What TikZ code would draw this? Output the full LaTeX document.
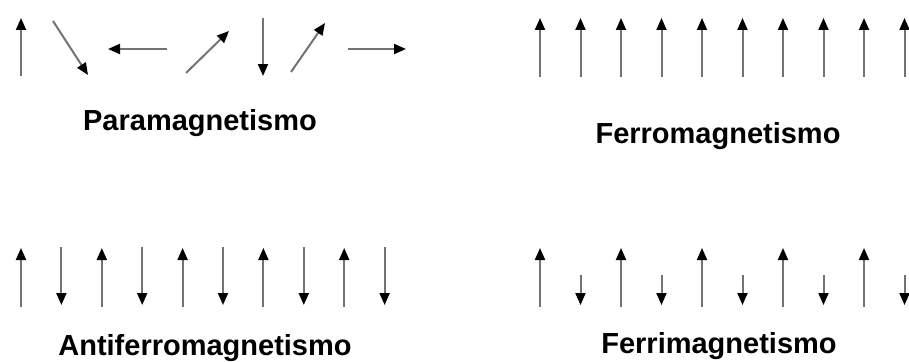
\documentclass[tikz,border=0pt]{standalone}
\usepackage{fontspec}
\setmainfont{Liberation Sans}
\usetikzlibrary{arrows.meta}
\begin{document}
\begin{tikzpicture}[x=1pt,y=-1pt,
  spin/.style={draw=black!55,line width=2pt,-{Triangle[color=black,length=12pt,width=10pt]}},
  lbl/.style={anchor=base,font=\bfseries\fontsize{29}{30}\selectfont,inner sep=0pt}]
\useasboundingbox (0,0) rectangle (909,361);
% Paramagnetismo
\draw[spin] (21,76) -- (21,18);
\draw[spin] (53,21) -- (88,75);
\draw[spin] (167,49) -- (108,49);
\draw[spin] (186,73) -- (229,31);
\draw[spin] (263,18) -- (263,76);
\draw[spin] (291,72) -- (325,23);
\draw[spin] (348,49) -- (406,49);
\node[lbl] (para) at (200,130) {Paramagnetismo};
% Ferromagnetismo
\foreach \i in {0,...,9}{
  \draw[spin] ({540+40.5*\i},77) -- ({540+40.5*\i},18);
}
\node[lbl] (ferro) at (718,143) {Ferromagnetismo};
% Antiferromagnetismo
\foreach \i in {0,2,...,8}{
  \draw[spin] ({21+40.4*\i},307) -- ({21+40.4*\i},248);
}
\foreach \i in {1,3,...,9}{
  \draw[spin] ({21+40.4*\i},247) -- ({21+40.4*\i},305);
}
\node[lbl] (anti) at (205,355) {Antiferromagnetismo};
% Ferrimagnetismo
\foreach \i in {0,2,...,8}{
  \draw[spin] ({540+40.5*\i},307) -- ({540+40.5*\i},248);
}
\foreach \i in {1,3,...,9}{
  \draw[spin] ({540+40.5*\i},275) -- ({540+40.5*\i},305);
}
\node[lbl] (ferri) at (719,353) {Ferrimagnetismo};
\end{tikzpicture}
\end{document}
